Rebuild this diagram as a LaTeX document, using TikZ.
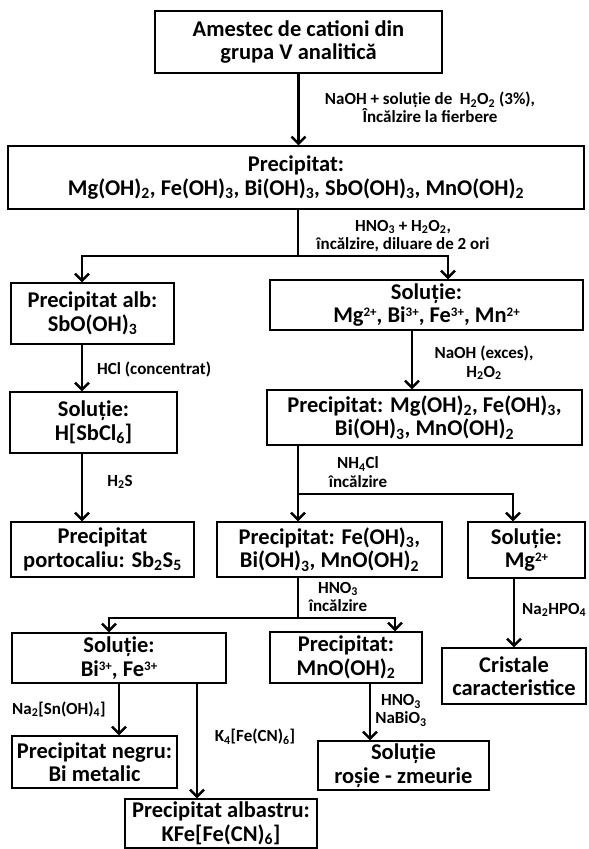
\documentclass[tikz,border=0pt]{standalone}
\usepackage{fontspec}
\setmainfont{Carlito}
\usetikzlibrary{arrows.meta}
% ion charge, set small and raised to cap height
\newcommand{\chg}[1]{\raisebox{0.55ex}{\fontsize{13}{13}\selectfont #1}}
\begin{document}
\begin{tikzpicture}[x=1pt,y=-1pt,
  stage/.style={draw, line width=1.3pt, align=center, inner sep=0pt,
    font=\bfseries\fontsize{22.5}{23.5}\selectfont},
  reag/.style={align=center, inner sep=0pt,
    font=\bfseries\fontsize{17}{18.5}\selectfont},
  link/.style={line width=2.4pt},
  flow/.style={link, -{Straight Barb[length=7pt,width=14pt,line width=2.4pt]}}]
\useasboundingbox (0,0) rectangle (589,849);

% separation stages
\node[stage, minimum width=287pt, minimum height=62pt] (top) at (298.5,42)
  {Amestec de cationi din\\grupa V analitică};
\node[stage, minimum width=576pt, minimum height=63pt] (big) at (296,177.5)
  {Precipitat:\\Mg(OH)\textsubscript{2}, Fe(OH)\textsubscript{3}, Bi(OH)\textsubscript{3}, SbO(OH)\textsubscript{3}, MnO(OH)\textsubscript{2}};
\node[stage, minimum width=163pt, minimum height=61pt] (sbo) at (92.5,313.5)
  {Precipitat alb:\\SbO(OH)\textsubscript{3}};
\node[stage, minimum width=313pt, minimum height=50pt] (sol1) at (426.5,305)
  {Soluție:\\Mg\chg{2+}, Bi\chg{3+}, Fe\chg{3+}, Mn\chg{2+}};
\node[stage, minimum width=167pt, minimum height=61pt] (hsb) at (93.5,422.5)
  {Soluție:\\H[SbCl\textsubscript{6}]};
\node[stage, minimum width=183pt, minimum height=55pt] (sbs) at (102.5,549.5)
  {Precipitat\\portocaliu: Sb\textsubscript{2}S\textsubscript{5}};
\node[stage, minimum width=315pt, minimum height=55pt] (pmg) at (424.5,417.5)
  {Precipitat: Mg(OH)\textsubscript{2}, Fe(OH)\textsubscript{3},\\Bi(OH)\textsubscript{3}, MnO(OH)\textsubscript{2}};
\node[stage, minimum width=225pt, minimum height=55pt] (pfe) at (329.5,549.5)
  {Precipitat: Fe(OH)\textsubscript{3},\\Bi(OH)\textsubscript{3}, MnO(OH)\textsubscript{2}};
\node[stage, minimum width=117pt, minimum height=56pt] (smg) at (526.5,550)
  {Soluție:\\Mg\chg{2+}};
\node[stage, minimum width=214pt, minimum height=50pt] (sbi) at (119,658)
  {Soluție:\\Bi\chg{3+}, Fe\chg{3+}};
\node[stage, minimum width=152pt, minimum height=51pt] (pmn) at (346,657.5)
  {Precipitat:\\MnO(OH)\textsubscript{2}};
\node[stage, minimum width=144pt, minimum height=56pt] (crist) at (514,676)
  {Cristale\\caracteristice};
\node[stage, minimum width=165pt, minimum height=52pt] (bimet) at (94.5,762)
  {Precipitat negru:\\Bi metalic};
\node[stage, minimum width=171pt, minimum height=49pt] (rosie) at (403.5,765.5)
  {Soluție\\roșie - zmeurie};
\node[stage, minimum width=192pt, minimum height=49pt] (alb) at (221,823.5)
  {Precipitat albastru:\\KFe[Fe(CN)\textsubscript{6}]};

% branch points
\coordinate (j1) at (298,256);
\coordinate (j1l) at (82,256);
\coordinate (j1r) at (448,256);
\coordinate (j2) at (298,494);
\coordinate (j2r) at (513,494);
\coordinate (j3) at (298,618);
\coordinate (j3l) at (109,618);
\coordinate (j3r) at (395,618);

% connectors
\draw[flow] (top.south) -- (top.south |- big.north);
\draw[link] (big.south -| j1) -- (j1);
\draw[flow] (j1) -- (j1l) -- (j1l |- sbo.north);
\draw[flow] (j1) -- (j1r) -- (j1r |- sol1.north);
\draw[flow] (sbo.south -| j1l) -- (j1l |- hsb.north);
\draw[flow] (hsb.south -| j1l) -- (j1l |- sbs.north);
\draw[flow] ([xshift=-14.5pt]sol1.south) -- ([xshift=-14.5pt]sol1.south |- pmg.north);
\draw[flow] (pmg.south -| j2) -- (j2 |- pfe.north);
\draw[flow] (j2) -- (j2r) -- (j2r |- smg.north);
\draw[link] (pfe.south -| j3) -- (j3);
\draw[flow] (j3) -- (j3l) -- (j3l |- sbi.north);
\draw[flow] (j3) -- (j3r) -- (j3r |- pmn.north);
\draw[flow] (crist.north |- smg.south) -- (crist.north);
\draw[flow] (sbi.south) -- (sbi.south |- bimet.north);
\draw[flow] ([xshift=78pt]sbi.south) -- ([xshift=78pt]sbi.south |- alb.north);
\draw[flow] ([xshift=24pt]pmn.south) -- ([xshift=24pt]pmn.south |- rosie.north);

% reagents and conditions
\node[reag] (l1) at (430,107.5)
  {NaOH + soluție de\ \ H\textsubscript{2}O\textsubscript{2} (3\%),\\Încălzire la fierbere};
\node[reag] (l2) at (403,236)
  {HNO\textsubscript{3} + H\textsubscript{2}O\textsubscript{2},\\încălzire, diluare de 2 ori};
\node[reag, anchor=west] (l3) at (97,369) {HCl (concentrat)};
\node[reag] (l4) at (120,482) {H\textsubscript{2}S};
\node[reag] (l5) at (484,363) {NaOH (exces),\\H\textsubscript{2}O\textsubscript{2}};
\node[reag] (l6) at (358,472) {NH\textsubscript{4}Cl\\încălzire};
\node[reag] (l7) at (338,597) {HNO\textsubscript{3}\\încălzire};
\node[reag, anchor=west] (l8) at (522,610) {Na\textsubscript{2}HPO\textsubscript{4}};
\node[reag, anchor=west] (l9) at (12,709) {Na\textsubscript{2}[Sn(OH)\textsubscript{4}]};
\node[reag] (l10) at (255,737) {K\textsubscript{4}[Fe(CN)\textsubscript{6}]};
\node[reag] (l11) at (401,710.5) {HNO\textsubscript{3}\\NaBiO\textsubscript{3}};
\end{tikzpicture}
\end{document}
